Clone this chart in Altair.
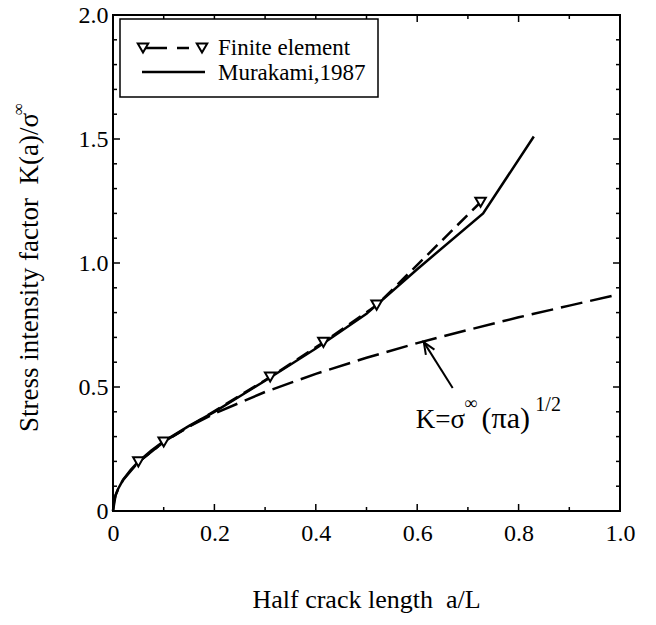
import altair as alt
import pandas as pd

# ---- data ----
fe_a = [0.05, 0.10, 0.31, 0.415, 0.52, 0.725]
fe_k = [0.198, 0.278, 0.54, 0.68, 0.83, 1.245]

mk_a = [0.0, 0.002, 0.005, 0.01, 0.02, 0.035, 0.05, 0.075, 0.10, 0.15, 0.20, 0.30, 0.40, 0.50, 0.60, 0.73, 0.83]
mk_k = [0.0, 0.04, 0.063, 0.089, 0.126, 0.166, 0.199, 0.243, 0.281, 0.343, 0.40, 0.525, 0.655, 0.795, 0.975, 1.20, 1.51]

sq_a = [0.0, 0.005, 0.01, 0.02, 0.05, 0.10, 0.15, 0.20, 0.30, 0.40, 0.50, 0.60, 0.70, 0.80, 0.90, 1.00]
sq_k = [0.0, 0.063, 0.088, 0.125, 0.197, 0.279, 0.341, 0.393, 0.48, 0.553, 0.618, 0.677, 0.73, 0.781, 0.828, 0.875]

x_labels = [0.0, 0.2, 0.4, 0.6, 0.8, 1.0]
y_labels = [0.0, 0.5, 1.0, 1.5, 2.0]
x_major = [0.2, 0.4, 0.6, 0.8]
x_minor = [0.1, 0.3, 0.5, 0.7, 0.9]
y_major = [0.5, 1.0, 1.5]
y_minor = [0.1, 0.2, 0.3, 0.4, 0.6, 0.7, 0.8, 0.9, 1.1, 1.2, 1.3, 1.4, 1.6, 1.7, 1.8, 1.9]

arrow_tail = (0.670, 0.496)
arrow_tip = (0.613, 0.681)

# annotation pieces: text, x, y (data units), font size
ann = [("K=σ", 0.597, 0.335, 27),
       ("∞", 0.693, 0.412, 18),
       ("(πa)", 0.727, 0.335, 30),
       ("1/2", 0.833, 0.402, 20)]

legend_labels = ["Finite element", "Murakami,1987"]
NB = "\u00a0"
x_title = "Half crack length" + NB + NB + "a/L"
y_title = "Stress" + NB + "intensity" + NB + "factor" + NB + NB + "K(a)/σ"

# ---- layout ----
W, H = 507, 496
FONT = "Liberation Serif"
LW = 2.5

xs = alt.Scale(domain=[0, 1], nice=False, zero=False)
ys = alt.Scale(domain=[0, 2], nice=False, zero=False)

X_AXIS = alt.Axis(values=x_labels, labelExpr="datum.value == 0 ? '0' : format(datum.value, '.1f')",
                  title=None, grid=False, ticks=False, domain=False, labelFont=FONT,
                  labelFontSize=24, labelColor="black", labelPadding=10, labelFlush=False,
                  labelOverlap=False)
Y_AXIS = alt.Axis(values=y_labels, labelExpr="datum.value == 0 ? '0' : format(datum.value, '.1f')",
                  title=None, grid=False, ticks=False, domain=False, labelFont=FONT,
                  labelFontSize=24, labelColor="black", labelPadding=5, labelFlush=False,
                  labelOverlap=False)


def X(f, **kw):
    return alt.X(f, type="quantitative", scale=xs, axis=X_AXIS, **kw)


def Y(f, **kw):
    return alt.Y(f, type="quantitative", scale=ys, axis=Y_AXIS, **kw)


fe = pd.DataFrame({"a": fe_a, "k": fe_k})
mk = pd.DataFrame({"a": mk_a, "k": mk_k})
sq = pd.DataFrame({"a": sq_a, "k": sq_k})

sq_line = alt.Chart(sq).mark_line(color="black", strokeWidth=LW, strokeDash=[22, 8]).encode(
    x=X("a"), y=Y("k"), order="a:Q")
mk_line = alt.Chart(mk).mark_line(color="black", strokeWidth=LW).encode(
    x=X("a"), y=Y("k"), order="a:Q")
fe_line = alt.Chart(fe).mark_line(color="black", strokeWidth=LW, strokeDash=[14, 7]).encode(
    x=X("a"), y=Y("k"), order="a:Q")
fe_pts = alt.Chart(fe).mark_point(shape="triangle-down", filled=True, fill="white", stroke="black",
                                  strokeWidth=2, size=110, opacity=1).encode(x=X("a"), y=Y("k"))

layers = [sq_line, mk_line, fe_line, fe_pts]

# ---- inward ticks on all four sides ----
for vals, L in [(x_major, 7), (x_minor, 4)]:
    d = pd.DataFrame({"v": vals})
    layers.append(alt.Chart(d).mark_rule(color="black", strokeWidth=1.5).encode(
        x=X("v"), y=alt.value(H), y2=alt.value(H - L)))
    layers.append(alt.Chart(d).mark_rule(color="black", strokeWidth=1.5).encode(
        x=X("v"), y=alt.value(0), y2=alt.value(L)))
for vals, L in [(y_major, 7), (y_minor, 4)]:
    d = pd.DataFrame({"v": vals})
    layers.append(alt.Chart(d).mark_rule(color="black", strokeWidth=1.5).encode(
        y=Y("v"), x=alt.value(0), x2=alt.value(L)))
    layers.append(alt.Chart(d).mark_rule(color="black", strokeWidth=1.5).encode(
        y=Y("v"), x=alt.value(W), x2=alt.value(W - L)))

# ---- arrow annotation ----
arr = pd.DataFrame({"x1": [arrow_tail[0]], "y1": [arrow_tail[1]],
                    "x2": [arrow_tip[0]], "y2": [arrow_tip[1]]})
layers.append(alt.Chart(arr).mark_rule(color="black", strokeWidth=2).encode(
    x=X("x1"), y=Y("y1"), x2="x2:Q", y2="y2:Q"))
layers.append(alt.Chart(arr).mark_point(shape="M-0.42,1L0,0L0.42,1", filled=False, stroke="black",
                                        strokeWidth=2, size=576, angle=328, opacity=1).encode(
    x=X("x2"), y=Y("y2")))

for t, ax, ay, fs in ann:
    d = pd.DataFrame({"t": [t], "x": [ax], "y": [ay]})
    layers.append(alt.Chart(d).mark_text(align="left", baseline="alphabetic", font=FONT,
                                         fontSize=fs, color="black").encode(
        x=X("x"), y=Y("y"), text="t:N"))

# ---- legend (drawn) ----
one = pd.DataFrame({"d": [0]})
layers.append(alt.Chart(one).mark_rect(fill="white", stroke="black", strokeWidth=1.5).encode(
    x=alt.value(7), x2=alt.value(265), y=alt.value(4), y2=alt.value(82)))
layers.append(alt.Chart(one).mark_rule(color="black", strokeWidth=LW, strokeDash=[24, 10, 12, 10]).encode(
    x=alt.value(30), x2=alt.value(89), y=alt.value(33)))
for px in (30, 89):
    layers.append(alt.Chart(one).mark_point(shape="triangle-down", filled=True, fill="white",
                                            stroke="black", strokeWidth=2, size=110, opacity=1).encode(
        x=alt.value(px), y=alt.value(33)))
layers.append(alt.Chart(one).mark_rule(color="black", strokeWidth=LW).encode(
    x=alt.value(29), x2=alt.value(92), y=alt.value(57)))
for i, lab in enumerate(legend_labels):
    layers.append(alt.Chart(one).mark_text(align="left", baseline="alphabetic", font=FONT,
                                           fontSize=23, color="black").encode(
        x=alt.value(105), y=alt.value(40 + 25 * i), text=alt.value(lab)))

# ---- axis titles ----
layers.append(alt.Chart(one).mark_text(align="center", baseline="alphabetic", font=FONT,
                                       fontSize=26, color="black").encode(
    x=alt.value(W / 2), y=alt.value(593), text=alt.value(x_title)))
layers.append(alt.Chart(one).mark_text(align="right", baseline="alphabetic", font=FONT,
                                       fontSize=27, color="black", angle=270).encode(
    x=alt.value(-75), y=alt.value(98), text=alt.value(y_title)))
layers.append(alt.Chart(one).mark_text(align="left", baseline="alphabetic", font=FONT,
                                       fontSize=17, color="black", angle=270).encode(
    x=alt.value(-89), y=alt.value(100), text=alt.value("∞")))

chart = alt.layer(*layers).properties(
    width=W, height=H,
    autosize=alt.AutoSizeParams(type="none"),
    padding={"left": 113, "top": 15, "right": 36, "bottom": 114},
    background="white",
).configure_view(stroke="black", strokeWidth=2)

chart.save("out.html", embed_options={"renderer": "svg", "actions": False})
